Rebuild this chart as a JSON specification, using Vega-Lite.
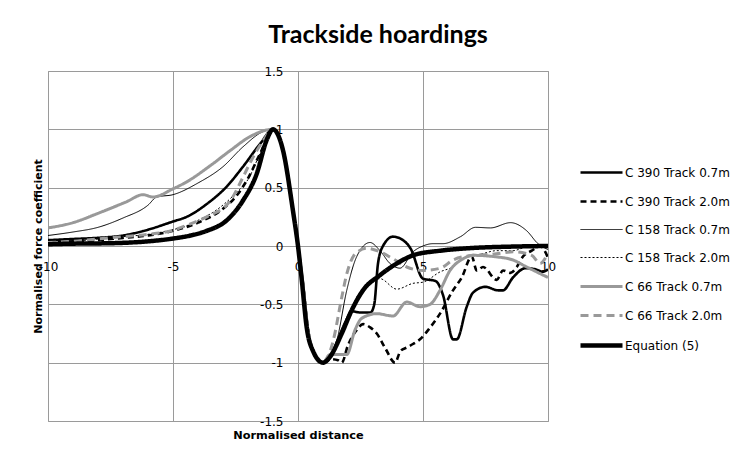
{
  "$schema": "https://vega.github.io/schema/vega-lite/v6.json",
  "width": 500,
  "height": 350,
  "autosize": {"type": "none"},
  "padding": {"left": 48, "top": 71, "right": 191, "bottom": 39},
  "background": "white",
  "title": {"text": "Trackside hoardings", "font": "Lato", "fontSize": 25, "fontWeight": "bold", "color": "#000000", "anchor": "middle", "dx": 80, "offset": -3, "baseline": "alphabetic"},
  "datasets": {
    "curves": [
      {"s": "C 390 Track 0.7m", "x": -10, "y": 0.05}, {"s": "C 390 Track 0.7m", "x": -9, "y": 0.06}, {"s": "C 390 Track 0.7m", "x": -8, "y": 0.07}, {"s": "C 390 Track 0.7m", "x": -7, "y": 0.09}, {"s": "C 390 Track 0.7m", "x": -6, "y": 0.14}, {"s": "C 390 Track 0.7m", "x": -5, "y": 0.21}, {"s": "C 390 Track 0.7m", "x": -4.45, "y": 0.25}, {"s": "C 390 Track 0.7m", "x": -3.65, "y": 0.36}, {"s": "C 390 Track 0.7m", "x": -2.85, "y": 0.51}, {"s": "C 390 Track 0.7m", "x": -2.2, "y": 0.68}, {"s": "C 390 Track 0.7m", "x": -1.5, "y": 0.88}, {"s": "C 390 Track 0.7m", "x": -1, "y": 1}, {"s": "C 390 Track 0.7m", "x": -0.6, "y": 0.82}, {"s": "C 390 Track 0.7m", "x": -0.2, "y": 0.3}, {"s": "C 390 Track 0.7m", "x": 0, "y": 0}, {"s": "C 390 Track 0.7m", "x": 0.2, "y": -0.33}, {"s": "C 390 Track 0.7m", "x": 0.4, "y": -0.72}, {"s": "C 390 Track 0.7m", "x": 0.6, "y": -0.9}, {"s": "C 390 Track 0.7m", "x": 1, "y": -1}, {"s": "C 390 Track 0.7m", "x": 1.3, "y": -0.95}, {"s": "C 390 Track 0.7m", "x": 1.6, "y": -0.8}, {"s": "C 390 Track 0.7m", "x": 1.9, "y": -0.65}, {"s": "C 390 Track 0.7m", "x": 2.15, "y": -0.56}, {"s": "C 390 Track 0.7m", "x": 2.5, "y": -0.57}, {"s": "C 390 Track 0.7m", "x": 2.9, "y": -0.57}, {"s": "C 390 Track 0.7m", "x": 3.05, "y": -0.5}, {"s": "C 390 Track 0.7m", "x": 3.2, "y": -0.15}, {"s": "C 390 Track 0.7m", "x": 3.4, "y": 0.0}, {"s": "C 390 Track 0.7m", "x": 3.8, "y": 0.08}, {"s": "C 390 Track 0.7m", "x": 4.2, "y": 0.05}, {"s": "C 390 Track 0.7m", "x": 4.5, "y": -0.02}, {"s": "C 390 Track 0.7m", "x": 5.0, "y": -0.28}, {"s": "C 390 Track 0.7m", "x": 5.5, "y": -0.3}, {"s": "C 390 Track 0.7m", "x": 5.8, "y": -0.42}, {"s": "C 390 Track 0.7m", "x": 6.2, "y": -0.8}, {"s": "C 390 Track 0.7m", "x": 6.35, "y": -0.8}, {"s": "C 390 Track 0.7m", "x": 6.75, "y": -0.52}, {"s": "C 390 Track 0.7m", "x": 7.0, "y": -0.4}, {"s": "C 390 Track 0.7m", "x": 7.5, "y": -0.35}, {"s": "C 390 Track 0.7m", "x": 8.0, "y": -0.38}, {"s": "C 390 Track 0.7m", "x": 8.2, "y": -0.38}, {"s": "C 390 Track 0.7m", "x": 8.6, "y": -0.27}, {"s": "C 390 Track 0.7m", "x": 9.1, "y": -0.19}, {"s": "C 390 Track 0.7m", "x": 9.5, "y": -0.2}, {"s": "C 390 Track 0.7m", "x": 9.8, "y": -0.22}, {"s": "C 390 Track 0.7m", "x": 10, "y": -0.2},

      {"s": "C 390 Track 2.0m", "x": -10, "y": 0.03}, {"s": "C 390 Track 2.0m", "x": -9, "y": 0.04}, {"s": "C 390 Track 2.0m", "x": -8, "y": 0.05}, {"s": "C 390 Track 2.0m", "x": -7, "y": 0.07}, {"s": "C 390 Track 2.0m", "x": -6, "y": 0.09}, {"s": "C 390 Track 2.0m", "x": -5, "y": 0.13}, {"s": "C 390 Track 2.0m", "x": -4, "y": 0.2}, {"s": "C 390 Track 2.0m", "x": -3, "y": 0.32}, {"s": "C 390 Track 2.0m", "x": -2.5, "y": 0.42}, {"s": "C 390 Track 2.0m", "x": -2, "y": 0.58}, {"s": "C 390 Track 2.0m", "x": -1.5, "y": 0.8}, {"s": "C 390 Track 2.0m", "x": -1, "y": 1}, {"s": "C 390 Track 2.0m", "x": -0.6, "y": 0.82}, {"s": "C 390 Track 2.0m", "x": -0.2, "y": 0.3}, {"s": "C 390 Track 2.0m", "x": 0, "y": 0}, {"s": "C 390 Track 2.0m", "x": 0.2, "y": -0.33}, {"s": "C 390 Track 2.0m", "x": 0.4, "y": -0.72}, {"s": "C 390 Track 2.0m", "x": 0.6, "y": -0.9}, {"s": "C 390 Track 2.0m", "x": 1, "y": -1}, {"s": "C 390 Track 2.0m", "x": 1.3, "y": -0.97}, {"s": "C 390 Track 2.0m", "x": 1.6, "y": -0.98}, {"s": "C 390 Track 2.0m", "x": 1.75, "y": -1.0}, {"s": "C 390 Track 2.0m", "x": 2.0, "y": -0.85}, {"s": "C 390 Track 2.0m", "x": 2.35, "y": -0.72}, {"s": "C 390 Track 2.0m", "x": 2.6, "y": -0.67}, {"s": "C 390 Track 2.0m", "x": 2.9, "y": -0.7}, {"s": "C 390 Track 2.0m", "x": 3.15, "y": -0.75}, {"s": "C 390 Track 2.0m", "x": 3.5, "y": -0.88}, {"s": "C 390 Track 2.0m", "x": 3.88, "y": -1.0}, {"s": "C 390 Track 2.0m", "x": 4.1, "y": -0.9}, {"s": "C 390 Track 2.0m", "x": 4.35, "y": -0.87}, {"s": "C 390 Track 2.0m", "x": 4.6, "y": -0.84}, {"s": "C 390 Track 2.0m", "x": 4.88, "y": -0.8}, {"s": "C 390 Track 2.0m", "x": 5.28, "y": -0.7}, {"s": "C 390 Track 2.0m", "x": 5.68, "y": -0.58}, {"s": "C 390 Track 2.0m", "x": 6.2, "y": -0.38}, {"s": "C 390 Track 2.0m", "x": 6.55, "y": -0.27}, {"s": "C 390 Track 2.0m", "x": 6.95, "y": -0.09}, {"s": "C 390 Track 2.0m", "x": 7.15, "y": -0.21}, {"s": "C 390 Track 2.0m", "x": 7.4, "y": -0.18}, {"s": "C 390 Track 2.0m", "x": 7.95, "y": -0.29}, {"s": "C 390 Track 2.0m", "x": 8.2, "y": -0.21}, {"s": "C 390 Track 2.0m", "x": 8.5, "y": -0.23}, {"s": "C 390 Track 2.0m", "x": 8.75, "y": -0.18}, {"s": "C 390 Track 2.0m", "x": 9.0, "y": -0.09}, {"s": "C 390 Track 2.0m", "x": 9.35, "y": -0.04}, {"s": "C 390 Track 2.0m", "x": 9.68, "y": 0.0}, {"s": "C 390 Track 2.0m", "x": 10, "y": -0.1},

      {"s": "C 158 Track 0.7m", "x": -10, "y": 0.09}, {"s": "C 158 Track 0.7m", "x": -9, "y": 0.12}, {"s": "C 158 Track 0.7m", "x": -8, "y": 0.16}, {"s": "C 158 Track 0.7m", "x": -7, "y": 0.24}, {"s": "C 158 Track 0.7m", "x": -6, "y": 0.35}, {"s": "C 158 Track 0.7m", "x": -5.65, "y": 0.42}, {"s": "C 158 Track 0.7m", "x": -5, "y": 0.44}, {"s": "C 158 Track 0.7m", "x": -4, "y": 0.54}, {"s": "C 158 Track 0.7m", "x": -3, "y": 0.68}, {"s": "C 158 Track 0.7m", "x": -2.2, "y": 0.85}, {"s": "C 158 Track 0.7m", "x": -1.4, "y": 0.98}, {"s": "C 158 Track 0.7m", "x": -1, "y": 1}, {"s": "C 158 Track 0.7m", "x": -0.6, "y": 0.82}, {"s": "C 158 Track 0.7m", "x": -0.2, "y": 0.3}, {"s": "C 158 Track 0.7m", "x": 0, "y": 0}, {"s": "C 158 Track 0.7m", "x": 0.2, "y": -0.33}, {"s": "C 158 Track 0.7m", "x": 0.4, "y": -0.72}, {"s": "C 158 Track 0.7m", "x": 0.6, "y": -0.9}, {"s": "C 158 Track 0.7m", "x": 1, "y": -1}, {"s": "C 158 Track 0.7m", "x": 1.2, "y": -0.95}, {"s": "C 158 Track 0.7m", "x": 1.55, "y": -0.81}, {"s": "C 158 Track 0.7m", "x": 1.95, "y": -0.38}, {"s": "C 158 Track 0.7m", "x": 2.35, "y": -0.09}, {"s": "C 158 Track 0.7m", "x": 2.88, "y": 0.03}, {"s": "C 158 Track 0.7m", "x": 3.28, "y": -0.04}, {"s": "C 158 Track 0.7m", "x": 3.68, "y": -0.15}, {"s": "C 158 Track 0.7m", "x": 4.08, "y": -0.19}, {"s": "C 158 Track 0.7m", "x": 4.6, "y": -0.05}, {"s": "C 158 Track 0.7m", "x": 5.0, "y": 0.0}, {"s": "C 158 Track 0.7m", "x": 5.4, "y": 0.02}, {"s": "C 158 Track 0.7m", "x": 5.8, "y": 0.02}, {"s": "C 158 Track 0.7m", "x": 6.5, "y": 0.08}, {"s": "C 158 Track 0.7m", "x": 7.1, "y": 0.16}, {"s": "C 158 Track 0.7m", "x": 7.7, "y": 0.155}, {"s": "C 158 Track 0.7m", "x": 8.5, "y": 0.2}, {"s": "C 158 Track 0.7m", "x": 9.15, "y": 0.13}, {"s": "C 158 Track 0.7m", "x": 9.6, "y": 0.02}, {"s": "C 158 Track 0.7m", "x": 10, "y": -0.03},

      {"s": "C 158 Track 2.0m", "x": -10, "y": 0.03}, {"s": "C 158 Track 2.0m", "x": -9, "y": 0.04}, {"s": "C 158 Track 2.0m", "x": -8, "y": 0.06}, {"s": "C 158 Track 2.0m", "x": -7, "y": 0.08}, {"s": "C 158 Track 2.0m", "x": -6, "y": 0.1}, {"s": "C 158 Track 2.0m", "x": -5, "y": 0.14}, {"s": "C 158 Track 2.0m", "x": -4.5, "y": 0.17}, {"s": "C 158 Track 2.0m", "x": -4, "y": 0.22}, {"s": "C 158 Track 2.0m", "x": -3.25, "y": 0.31}, {"s": "C 158 Track 2.0m", "x": -2.5, "y": 0.45}, {"s": "C 158 Track 2.0m", "x": -2, "y": 0.57}, {"s": "C 158 Track 2.0m", "x": -1.5, "y": 0.8}, {"s": "C 158 Track 2.0m", "x": -1, "y": 1}, {"s": "C 158 Track 2.0m", "x": -0.6, "y": 0.82}, {"s": "C 158 Track 2.0m", "x": -0.2, "y": 0.3}, {"s": "C 158 Track 2.0m", "x": 0, "y": 0}, {"s": "C 158 Track 2.0m", "x": 0.2, "y": -0.33}, {"s": "C 158 Track 2.0m", "x": 0.4, "y": -0.72}, {"s": "C 158 Track 2.0m", "x": 0.6, "y": -0.9}, {"s": "C 158 Track 2.0m", "x": 1, "y": -1}, {"s": "C 158 Track 2.0m", "x": 1.5, "y": -0.85}, {"s": "C 158 Track 2.0m", "x": 2.0, "y": -0.6}, {"s": "C 158 Track 2.0m", "x": 2.4, "y": -0.42}, {"s": "C 158 Track 2.0m", "x": 2.88, "y": -0.32}, {"s": "C 158 Track 2.0m", "x": 3.28, "y": -0.28}, {"s": "C 158 Track 2.0m", "x": 3.95, "y": -0.37}, {"s": "C 158 Track 2.0m", "x": 4.6, "y": -0.32}, {"s": "C 158 Track 2.0m", "x": 5.0, "y": -0.31}, {"s": "C 158 Track 2.0m", "x": 5.7, "y": -0.22}, {"s": "C 158 Track 2.0m", "x": 6.2, "y": -0.18}, {"s": "C 158 Track 2.0m", "x": 6.75, "y": -0.09}, {"s": "C 158 Track 2.0m", "x": 7.3, "y": -0.07}, {"s": "C 158 Track 2.0m", "x": 7.95, "y": -0.04}, {"s": "C 158 Track 2.0m", "x": 8.6, "y": -0.04}, {"s": "C 158 Track 2.0m", "x": 9.15, "y": -0.01}, {"s": "C 158 Track 2.0m", "x": 9.8, "y": -0.01}, {"s": "C 158 Track 2.0m", "x": 10, "y": -0.02},

      {"s": "C 66 Track 0.7m", "x": -10, "y": 0.155}, {"s": "C 66 Track 0.7m", "x": -9, "y": 0.2}, {"s": "C 66 Track 0.7m", "x": -8, "y": 0.28}, {"s": "C 66 Track 0.7m", "x": -7.3, "y": 0.34}, {"s": "C 66 Track 0.7m", "x": -6.85, "y": 0.38}, {"s": "C 66 Track 0.7m", "x": -6.2, "y": 0.44}, {"s": "C 66 Track 0.7m", "x": -5.8, "y": 0.42}, {"s": "C 66 Track 0.7m", "x": -5, "y": 0.49}, {"s": "C 66 Track 0.7m", "x": -4.45, "y": 0.55}, {"s": "C 66 Track 0.7m", "x": -3.5, "y": 0.69}, {"s": "C 66 Track 0.7m", "x": -2.7, "y": 0.82}, {"s": "C 66 Track 0.7m", "x": -1.9, "y": 0.94}, {"s": "C 66 Track 0.7m", "x": -1, "y": 1}, {"s": "C 66 Track 0.7m", "x": -0.6, "y": 0.82}, {"s": "C 66 Track 0.7m", "x": -0.2, "y": 0.3}, {"s": "C 66 Track 0.7m", "x": 0, "y": 0}, {"s": "C 66 Track 0.7m", "x": 0.2, "y": -0.33}, {"s": "C 66 Track 0.7m", "x": 0.4, "y": -0.72}, {"s": "C 66 Track 0.7m", "x": 0.6, "y": -0.9}, {"s": "C 66 Track 0.7m", "x": 1, "y": -1}, {"s": "C 66 Track 0.7m", "x": 1.28, "y": -0.93}, {"s": "C 66 Track 0.7m", "x": 1.95, "y": -0.93}, {"s": "C 66 Track 0.7m", "x": 2.28, "y": -0.72}, {"s": "C 66 Track 0.7m", "x": 2.55, "y": -0.62}, {"s": "C 66 Track 0.7m", "x": 3.15, "y": -0.58}, {"s": "C 66 Track 0.7m", "x": 3.8, "y": -0.6}, {"s": "C 66 Track 0.7m", "x": 4.35, "y": -0.48}, {"s": "C 66 Track 0.7m", "x": 4.88, "y": -0.52}, {"s": "C 66 Track 0.7m", "x": 5.28, "y": -0.5}, {"s": "C 66 Track 0.7m", "x": 5.68, "y": -0.38}, {"s": "C 66 Track 0.7m", "x": 6.08, "y": -0.21}, {"s": "C 66 Track 0.7m", "x": 6.6, "y": -0.11}, {"s": "C 66 Track 0.7m", "x": 7.0, "y": -0.08}, {"s": "C 66 Track 0.7m", "x": 7.8, "y": -0.09}, {"s": "C 66 Track 0.7m", "x": 8.6, "y": -0.12}, {"s": "C 66 Track 0.7m", "x": 9.15, "y": -0.18}, {"s": "C 66 Track 0.7m", "x": 10, "y": -0.27},

      {"s": "C 66 Track 2.0m", "x": -10, "y": 0.03}, {"s": "C 66 Track 2.0m", "x": -9, "y": 0.04}, {"s": "C 66 Track 2.0m", "x": -8, "y": 0.06}, {"s": "C 66 Track 2.0m", "x": -7, "y": 0.08}, {"s": "C 66 Track 2.0m", "x": -6, "y": 0.1}, {"s": "C 66 Track 2.0m", "x": -5, "y": 0.135}, {"s": "C 66 Track 2.0m", "x": -4.3, "y": 0.19}, {"s": "C 66 Track 2.0m", "x": -3.65, "y": 0.25}, {"s": "C 66 Track 2.0m", "x": -2.7, "y": 0.39}, {"s": "C 66 Track 2.0m", "x": -2.2, "y": 0.59}, {"s": "C 66 Track 2.0m", "x": -1.9, "y": 0.72}, {"s": "C 66 Track 2.0m", "x": -1.4, "y": 0.9}, {"s": "C 66 Track 2.0m", "x": -1, "y": 1}, {"s": "C 66 Track 2.0m", "x": -0.6, "y": 0.82}, {"s": "C 66 Track 2.0m", "x": -0.2, "y": 0.3}, {"s": "C 66 Track 2.0m", "x": 0, "y": 0}, {"s": "C 66 Track 2.0m", "x": 0.2, "y": -0.33}, {"s": "C 66 Track 2.0m", "x": 0.4, "y": -0.72}, {"s": "C 66 Track 2.0m", "x": 0.6, "y": -0.9}, {"s": "C 66 Track 2.0m", "x": 1, "y": -1}, {"s": "C 66 Track 2.0m", "x": 1.2, "y": -0.95}, {"s": "C 66 Track 2.0m", "x": 1.41, "y": -0.81}, {"s": "C 66 Track 2.0m", "x": 1.75, "y": -0.44}, {"s": "C 66 Track 2.0m", "x": 1.95, "y": -0.24}, {"s": "C 66 Track 2.0m", "x": 2.28, "y": -0.07}, {"s": "C 66 Track 2.0m", "x": 2.75, "y": -0.02}, {"s": "C 66 Track 2.0m", "x": 3.28, "y": -0.05}, {"s": "C 66 Track 2.0m", "x": 3.8, "y": -0.11}, {"s": "C 66 Track 2.0m", "x": 4.35, "y": -0.18}, {"s": "C 66 Track 2.0m", "x": 5.0, "y": -0.21}, {"s": "C 66 Track 2.0m", "x": 5.7, "y": -0.19}, {"s": "C 66 Track 2.0m", "x": 6.2, "y": -0.12}, {"s": "C 66 Track 2.0m", "x": 7.0, "y": -0.08}, {"s": "C 66 Track 2.0m", "x": 7.8, "y": -0.07}, {"s": "C 66 Track 2.0m", "x": 8.6, "y": -0.05}, {"s": "C 66 Track 2.0m", "x": 9.35, "y": -0.08}, {"s": "C 66 Track 2.0m", "x": 9.68, "y": -0.15}, {"s": "C 66 Track 2.0m", "x": 10, "y": -0.06},

      {"s": "Equation (5)", "x": -10, "y": 0.015}, {"s": "Equation (5)", "x": -9, "y": 0.02}, {"s": "Equation (5)", "x": -8, "y": 0.022}, {"s": "Equation (5)", "x": -7, "y": 0.027}, {"s": "Equation (5)", "x": -6, "y": 0.04}, {"s": "Equation (5)", "x": -5, "y": 0.064}, {"s": "Equation (5)", "x": -4.3, "y": 0.09}, {"s": "Equation (5)", "x": -3.65, "y": 0.13}, {"s": "Equation (5)", "x": -2.85, "y": 0.22}, {"s": "Equation (5)", "x": -2.2, "y": 0.39}, {"s": "Equation (5)", "x": -1.65, "y": 0.62}, {"s": "Equation (5)", "x": -1.25, "y": 0.91}, {"s": "Equation (5)", "x": -1, "y": 1}, {"s": "Equation (5)", "x": -0.6, "y": 0.82}, {"s": "Equation (5)", "x": -0.2, "y": 0.3}, {"s": "Equation (5)", "x": 0, "y": 0}, {"s": "Equation (5)", "x": 0.15, "y": -0.29}, {"s": "Equation (5)", "x": 0.35, "y": -0.7}, {"s": "Equation (5)", "x": 0.6, "y": -0.9}, {"s": "Equation (5)", "x": 1, "y": -1}, {"s": "Equation (5)", "x": 1.28, "y": -0.95}, {"s": "Equation (5)", "x": 1.75, "y": -0.75}, {"s": "Equation (5)", "x": 2.15, "y": -0.55}, {"s": "Equation (5)", "x": 2.6, "y": -0.38}, {"s": "Equation (5)", "x": 3.28, "y": -0.25}, {"s": "Equation (5)", "x": 3.95, "y": -0.15}, {"s": "Equation (5)", "x": 4.6, "y": -0.08}, {"s": "Equation (5)", "x": 5.7, "y": -0.04}, {"s": "Equation (5)", "x": 6.75, "y": -0.02}, {"s": "Equation (5)", "x": 8.6, "y": -0.005}, {"s": "Equation (5)", "x": 10, "y": 0}
    ]
  },
  "data": {"name": "curves"},
  "mark": {"type": "line", "interpolate": "monotone", "clip": true},
  "encoding": {
    "x": {"field": "x", "type": "quantitative", "scale": {"domain": [-10, 10], "nice": false, "zero": false},
      "axis": {"orient": "bottom", "offset": -175, "values": [-10, -5, 0, 5, 10], "domain": false, "ticks": false, "tickSize": 0, "grid": true,
        "labelExpr": "'' + datum.value",
        "labelPadding": 20, "labelBaseline": "middle", "labelAlign": "center", "labelFlush": false, "labelOverlap": false, "labelBound": false,
        "title": "Normalised distance", "titleY": 183, "titleBaseline": "top", "titleFont": "DejaVu Sans", "titleFontSize": 11.3}},
    "y": {"field": "y", "type": "quantitative", "scale": {"domain": [-1.5, 1.5], "nice": false, "zero": false},
      "axis": {"orient": "left", "offset": -250, "values": [-1.5, -1, -0.5, 0, 0.5, 1, 1.5], "domain": false, "ticks": false, "tickSize": 0, "grid": true,
        "labelExpr": "'' + datum.value",
        "labelPadding": 15, "labelBaseline": "middle", "labelAlign": "right", "labelFlush": false, "labelOverlap": false, "labelBound": false,
        "title": "Normalised force coefficient", "titleX": -260, "titleY": 175, "titleAngle": -90, "titleAlign": "center", "titleBaseline": "middle", "titleFont": "DejaVu Sans", "titleFontSize": 11}},
    "color": {"field": "s", "type": "nominal", "title": null,
      "scale": {"domain": ["C 390 Track 0.7m", "C 390 Track 2.0m", "C 158 Track 0.7m", "C 158 Track 2.0m", "C 66 Track 0.7m", "C 66 Track 2.0m", "Equation (5)"],
                "range": ["#000000", "#000000", "#000000", "#000000", "#999999", "#999999", "#000000"]}},
    "strokeDash": {"field": "s", "type": "nominal", "title": null,
      "scale": {"domain": ["C 390 Track 0.7m", "C 390 Track 2.0m", "C 158 Track 0.7m", "C 158 Track 2.0m", "C 66 Track 0.7m", "C 66 Track 2.0m", "Equation (5)"],
                "range": [[1, 0], [6, 4], [1, 0], [2, 2], [1, 0], [8, 5], [1, 0]]}},
    "strokeWidth": {"field": "s", "type": "ordinal", "title": null,
      "scale": {"type": "ordinal", "domain": ["C 390 Track 0.7m", "C 390 Track 2.0m", "C 158 Track 0.7m", "C 158 Track 2.0m", "C 66 Track 0.7m", "C 66 Track 2.0m", "Equation (5)"],
                "range": [2.6, 2.6, 1, 1, 3, 3, 4.5]}}
  },
  "config": {
    "view": {"stroke": "#9a9a9a", "strokeWidth": 1},
    "axis": {"gridColor": "#9a9a9a", "gridWidth": 1, "gridOpacity": 1, "labelFont": "DejaVu Sans", "labelFontSize": 12, "labelColor": "#000000",
             "titleFontWeight": "bold", "titleColor": "#000000"},
    "legend": {"orient": "none", "legendX": 530, "legendY": 79, "symbolType": "stroke", "symbolSize": 1764, "labelFont": "DejaVu Sans", "labelFontSize": 12, "labelColor": "#000000", "labelOffset": 0, "rowPadding": -2.6, "symbolStrokeColor": "#000000"}
  }
}
